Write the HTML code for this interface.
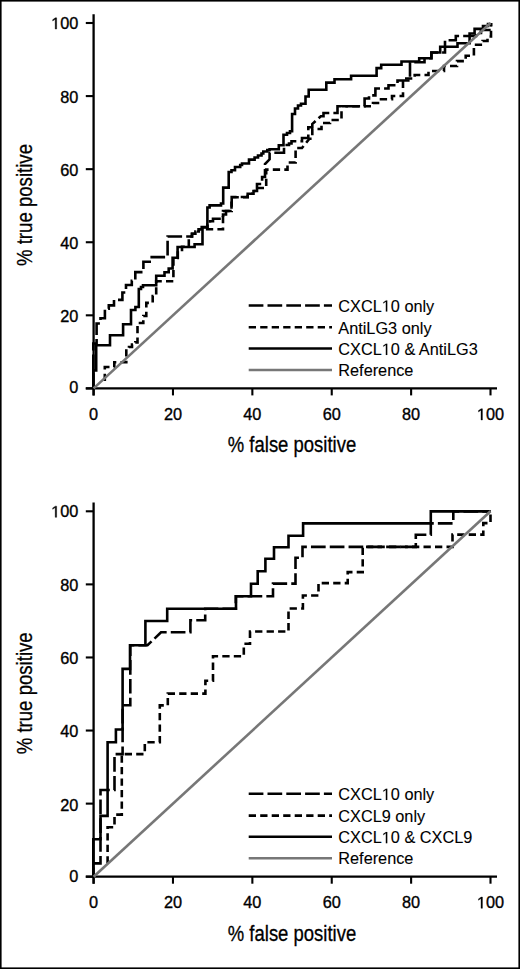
<!DOCTYPE html>
<html><head><meta charset="utf-8"><style>
html,body{margin:0;padding:0;background:#fff;}
svg{display:block;}
.t{font-family:"Liberation Sans",sans-serif;font-size:16.3px;fill:#000;stroke:#000;stroke-width:0.35px;}
.lg{font-family:"Liberation Sans",sans-serif;font-size:16.3px;fill:#000;stroke:#000;stroke-width:0.1px;}
.h1{fill:none;stroke:none;}
.ti{font-family:"Liberation Sans",sans-serif;font-size:21.5px;fill:#000;stroke:#000;stroke-width:0.3px;}
</style></head><body>
<svg width="520" height="969" viewBox="0 0 520 969">
<rect x="0" y="0" width="520" height="969" fill="#fff"/>
<g transform="translate(0,0)">
<line x1="93.6" y1="14.3" x2="93.6" y2="395.4" stroke="#000" stroke-width="2.3"/>
<line x1="85.8" y1="388.4" x2="497" y2="388.4" stroke="#000" stroke-width="2.2"/>
<line x1="85.8" y1="388.40" x2="93.6" y2="388.40" stroke="#000" stroke-width="2.1"/>
<line x1="93.60" y1="388.4" x2="93.60" y2="395.4" stroke="#000" stroke-width="2.1"/>
<text x="78.3" y="393.30" text-anchor="end" class="t">0</text>
<text x="93.60" y="420" text-anchor="middle" class="t">0</text>
<line x1="85.8" y1="315.32" x2="93.6" y2="315.32" stroke="#000" stroke-width="2.1"/>
<line x1="172.98" y1="388.4" x2="172.98" y2="395.4" stroke="#000" stroke-width="2.1"/>
<text x="78.3" y="322.22" text-anchor="end" class="t">20</text>
<text x="172.98" y="420" text-anchor="middle" class="t">20</text>
<line x1="85.8" y1="242.24" x2="93.6" y2="242.24" stroke="#000" stroke-width="2.1"/>
<line x1="252.36" y1="388.4" x2="252.36" y2="395.4" stroke="#000" stroke-width="2.1"/>
<text x="78.3" y="248.74" text-anchor="end" class="t">40</text>
<text x="252.36" y="420" text-anchor="middle" class="t">40</text>
<line x1="85.8" y1="169.16" x2="93.6" y2="169.16" stroke="#000" stroke-width="2.1"/>
<line x1="331.74" y1="388.4" x2="331.74" y2="395.4" stroke="#000" stroke-width="2.1"/>
<text x="78.3" y="175.66" text-anchor="end" class="t">60</text>
<text x="331.74" y="420" text-anchor="middle" class="t">60</text>
<line x1="85.8" y1="96.08" x2="93.6" y2="96.08" stroke="#000" stroke-width="2.1"/>
<line x1="411.12" y1="388.4" x2="411.12" y2="395.4" stroke="#000" stroke-width="2.1"/>
<text x="78.3" y="102.53" text-anchor="end" class="t">80</text>
<text x="411.12" y="420" text-anchor="middle" class="t">80</text>
<line x1="85.8" y1="23.00" x2="93.6" y2="23.00" stroke="#000" stroke-width="2.1"/>
<line x1="490.50" y1="388.4" x2="490.50" y2="395.4" stroke="#000" stroke-width="2.1"/>
<text x="78.3" y="29.05" text-anchor="end" class="t"><tspan class="h1">1</tspan>00</text>
<text x="490.50" y="420" text-anchor="middle" class="t"><tspan class="h1">1</tspan>00</text>
<text x="292" y="452.4" text-anchor="middle" class="ti" textLength="128.4" lengthAdjust="spacingAndGlyphs">% false positive</text>
<text transform="translate(32.3,205) rotate(-90)" x="0" y="0" text-anchor="middle" class="ti" textLength="122" lengthAdjust="spacingAndGlyphs">% true positive</text>
<path d="M93.3,388.0 L93.3,343.5 L96.6,343.5 L96.6,323.5 L100.5,323.5 L100.5,318.3 L104.9,318.3 L104.9,308.8 L108.8,308.8 L108.8,305.4 L114.0,305.4 L114.0,299.9 L122.4,299.9 L122.4,292.5 L126.0,292.5 L126.0,285.0 L131.8,285.0 L131.8,280.8 L135.3,280.8 L135.3,272.1 L143.4,272.1 L143.4,261.7 L149.7,261.7 L149.7,257.1 L167.6,257.1 L167.6,236.5 L192.0,236.5 L192.0,233.8 L195.4,233.8 L195.4,231.5 L198.8,231.5 L198.8,229.2 L201.7,229.2 L201.7,227.0 L207.5,227.0 L207.5,224.6 L210.0,224.6 L210.0,221.2 L213.0,221.2 L213.0,218.8 L223.0,218.8 L223.0,214.5 L226.0,214.5 L226.0,211.0 L231.7,211.0 L231.7,197.0 L247.7,197.0 L247.7,193.8 L253.5,193.8 L253.5,191.0 L257.0,191.0 L257.0,184.0 L262.1,184.0 L262.1,177.0 L265.0,177.0 L265.0,164.0 L269.6,159.3 L269.6,152.7 L284.0,152.7 L284.0,145.0 L289.0,145.0 L289.0,143.5 L291.5,143.5 L291.5,141.2 L302.0,141.2 L302.0,138.0 L308.3,138.0 L308.3,127.3 L312.3,127.3 L312.3,124.0 L320.8,116.2 L323.5,116.2 L323.5,113.0 L337.5,113.0 L337.5,106.2 L364.6,106.2 L364.6,98.5 L369.0,98.5 L369.0,95.4 L375.4,95.4 L375.4,88.5 L388.5,88.5 L388.5,85.2 L397.5,85.2 L397.5,80.5 L410.0,80.5 L410.0,62.3 L424.5,62.3 L424.5,58.3 L431.4,58.3 L431.4,52.5 L445.0,52.5 L445.0,40.2 L455.8,40.2 L455.8,36.0 L476.0,36.0 L476.0,33.0 L481.0,33.0 L481.0,30.0 L491.0,30.0 L491.0,23.0" fill="none" stroke="#000" stroke-width="2.6" stroke-linejoin="miter" stroke-dasharray="14.7 4.1"/>
<path d="M104.8,381.1 L104.8,367.0 L114.3,367.0 L114.3,362.3 L126.3,362.3 L126.3,349.3 L129.0,349.3 L129.0,347.0 L132.0,347.0 L132.0,344.5 L135.3,344.5 L135.3,342.4 L137.5,342.4 L137.5,323.0 L143.3,323.0 L143.3,316.0 L146.3,316.0 L146.3,302.9 L152.7,302.9 L152.7,296.0 L156.2,296.0 L156.2,281.3 L173.4,281.3 L173.4,258.0 L177.8,258.0 L177.8,250.0 L182.0,250.0 L182.0,246.8 L188.8,246.8 L188.8,236.5 L192.0,236.5 L192.0,233.8 L195.4,233.8 L195.4,231.5 L198.8,231.5 L198.8,229.2 L223.0,229.2 L223.0,211.0 L231.5,211.0 L231.5,197.3 L247.7,197.3 L247.7,193.8 L253.5,193.8 L253.5,191.0 L258.0,191.0 L258.0,188.0 L266.2,188.0 L266.2,169.6 L287.5,169.6 L287.5,162.5 L295.6,162.5 L295.6,148.0 L302.0,148.0 L309.4,138.8 L312.3,138.8 L312.3,129.0 L321.5,129.0 L321.5,123.0 L330.0,123.0 L330.0,120.0 L341.5,120.0 L341.5,106.2 L373.0,106.2 L373.0,103.0 L381.0,103.0 L381.0,99.3 L392.0,99.3 L392.0,96.0 L403.0,96.0 L403.0,78.5 L414.7,78.5 L414.7,75.0 L428.5,75.0 L428.5,71.0 L444.0,71.0 L444.0,66.0 L457.0,66.0 L457.0,61.1 L465.7,61.1 L465.7,55.7 L473.9,55.7 L473.9,44.8 L482.6,44.8 L482.6,41.0 L487.5,41.0 L487.5,36.5 L491.0,36.5 L491.0,23.0" fill="none" stroke="#000" stroke-width="2.6" stroke-linejoin="miter" stroke-dasharray="7.3 4.2"/>
<path d="M93.3,388.0 L93.3,370.4 L96.2,370.4 L96.2,345.3 L110.0,345.3 L110.0,335.3 L123.1,335.3 L123.1,324.2 L131.0,324.2 L131.0,310.0 L135.4,310.0 L135.4,307.0 L138.8,307.0 L138.8,289.0 L141.0,289.0 L141.0,287.0 L143.0,287.0 L143.0,285.3 L156.2,285.3 L156.2,275.7 L164.5,275.7 L164.5,272.3 L168.7,272.3 L168.7,268.5 L172.6,268.5 L172.6,257.8 L177.6,257.8 L177.6,247.0 L194.6,247.0 L194.6,244.2 L202.5,244.2 L202.5,227.5 L207.4,227.5 L207.4,207.5 L209.6,207.5 L209.6,205.4 L221.0,205.4 L221.0,203.5 L223.2,203.5 L223.2,187.6 L228.7,187.6 L228.7,172.0 L231.5,172.0 L231.5,170.3 L235.0,170.3 L235.0,167.0 L240.2,167.0 L240.2,165.0 L242.0,165.0 L242.0,163.5 L249.0,163.5 L249.0,159.6 L254.6,159.6 L254.6,157.5 L258.0,157.5 L258.0,155.5 L261.5,155.5 L261.5,153.5 L263.3,153.5 L263.3,151.5 L267.3,151.5 L267.3,150.0 L269.6,150.0 L269.6,149.2 L278.8,149.2 L278.8,145.2 L283.5,145.2 L283.5,134.8 L287.0,134.8 L287.0,133.0 L290.0,133.0 L290.0,131.3 L292.1,131.3 L292.1,114.0 L295.0,114.0 L295.0,108.5 L298.0,108.5 L298.0,105.5 L301.0,105.5 L301.0,103.7 L305.5,103.7 L305.5,96.5 L308.7,96.5 L308.7,89.8 L326.3,89.8 L326.3,82.6 L334.5,82.6 L334.5,79.3 L351.1,79.3 L351.1,75.8 L376.6,75.8 L376.6,68.1 L381.2,68.1 L381.2,64.7 L401.5,64.7 L401.5,61.5 L419.2,61.5 L419.2,58.3 L431.4,58.3 L431.4,52.5 L440.2,52.5 L440.2,46.7 L457.5,46.7 L457.5,43.2 L469.6,43.2 L469.6,33.5 L474.6,33.5 L474.6,28.9 L483.0,28.9 L483.0,26.0 L488.0,26.0 L488.0,24.0 L490.5,24.0 L490.5,23.0" fill="none" stroke="#000" stroke-width="2.6" stroke-linejoin="miter"/>
<line x1="93.6" y1="388.4" x2="490.5" y2="23.0" stroke="#777" stroke-width="2.6"/>
<line x1="248.7" y1="305.5" x2="332" y2="305.5" stroke="#000" stroke-width="2.6" stroke-dasharray="14.7 4.1"/>
<text x="338.3" y="311.6" class="lg">CXCL<tspan class="h1">1</tspan>0 only</text>
<line x1="248.7" y1="327.3" x2="332" y2="327.3" stroke="#000" stroke-width="2.6" stroke-dasharray="7.3 4.2"/>
<text x="338.3" y="333.5" class="lg">AntiLG3 only</text>
<line x1="248.7" y1="348.5" x2="332" y2="348.5" stroke="#000" stroke-width="2.6"/>
<text x="338.3" y="354.9" class="lg">CXCL<tspan class="h1">1</tspan>0 &amp; AntiLG3</text>
<line x1="248.7" y1="370.0" x2="332" y2="370.0" stroke="#777" stroke-width="2.6"/>
<text x="338.3" y="376.0" class="lg">Reference</text>
</g>
<g transform="translate(0,488.3)">
<line x1="93.6" y1="14.3" x2="93.6" y2="395.4" stroke="#000" stroke-width="2.3"/>
<line x1="85.8" y1="388.4" x2="497" y2="388.4" stroke="#000" stroke-width="2.2"/>
<line x1="85.8" y1="388.40" x2="93.6" y2="388.40" stroke="#000" stroke-width="2.1"/>
<line x1="93.60" y1="388.4" x2="93.60" y2="395.4" stroke="#000" stroke-width="2.1"/>
<text x="78.3" y="393.30" text-anchor="end" class="t">0</text>
<text x="93.60" y="420" text-anchor="middle" class="t">0</text>
<line x1="85.8" y1="315.32" x2="93.6" y2="315.32" stroke="#000" stroke-width="2.1"/>
<line x1="172.98" y1="388.4" x2="172.98" y2="395.4" stroke="#000" stroke-width="2.1"/>
<text x="78.3" y="322.22" text-anchor="end" class="t">20</text>
<text x="172.98" y="420" text-anchor="middle" class="t">20</text>
<line x1="85.8" y1="242.24" x2="93.6" y2="242.24" stroke="#000" stroke-width="2.1"/>
<line x1="252.36" y1="388.4" x2="252.36" y2="395.4" stroke="#000" stroke-width="2.1"/>
<text x="78.3" y="248.74" text-anchor="end" class="t">40</text>
<text x="252.36" y="420" text-anchor="middle" class="t">40</text>
<line x1="85.8" y1="169.16" x2="93.6" y2="169.16" stroke="#000" stroke-width="2.1"/>
<line x1="331.74" y1="388.4" x2="331.74" y2="395.4" stroke="#000" stroke-width="2.1"/>
<text x="78.3" y="175.66" text-anchor="end" class="t">60</text>
<text x="331.74" y="420" text-anchor="middle" class="t">60</text>
<line x1="85.8" y1="96.08" x2="93.6" y2="96.08" stroke="#000" stroke-width="2.1"/>
<line x1="411.12" y1="388.4" x2="411.12" y2="395.4" stroke="#000" stroke-width="2.1"/>
<text x="78.3" y="102.53" text-anchor="end" class="t">80</text>
<text x="411.12" y="420" text-anchor="middle" class="t">80</text>
<line x1="85.8" y1="23.00" x2="93.6" y2="23.00" stroke="#000" stroke-width="2.1"/>
<line x1="490.50" y1="388.4" x2="490.50" y2="395.4" stroke="#000" stroke-width="2.1"/>
<text x="78.3" y="29.05" text-anchor="end" class="t"><tspan class="h1">1</tspan>00</text>
<text x="490.50" y="420" text-anchor="middle" class="t"><tspan class="h1">1</tspan>00</text>
<text x="292" y="452.4" text-anchor="middle" class="ti" textLength="128.4" lengthAdjust="spacingAndGlyphs">% false positive</text>
<text transform="translate(32.3,205) rotate(-90)" x="0" y="0" text-anchor="middle" class="ti" textLength="122" lengthAdjust="spacingAndGlyphs">% true positive</text>
<path d="M93.3,388.2 L93.3,375.1 L100.5,375.1 L100.5,301.7 L114.5,301.7 L114.5,265.8 L122.6,265.8 L122.6,217.0 L130.3,217.0 L130.3,157.0 L147.5,157.0 L161.0,144.0 L190.4,144.0 L190.4,131.9 L205.2,131.9 L205.2,120.5 L235.8,120.5 L235.8,108.0 L273.0,108.0 L273.0,95.3 L295.5,95.3 L295.5,69.5 L302.5,69.5 L302.5,58.6 L415.8,58.6 L415.8,46.5 L430.8,46.5 L430.8,35.1 L453.3,35.1 L453.3,23.1 L490.5,23.1" fill="none" stroke="#000" stroke-width="2.6" stroke-linejoin="miter" stroke-dasharray="14.7 4.1" stroke-dashoffset="5.7"/>
<path d="M107.6,375.2 L107.6,339.0 L114.5,339.0 L114.5,326.3 L121.8,326.3 L121.8,265.8 L144.8,265.8 L144.8,254.0 L159.8,254.0 L159.8,217.1 L167.8,217.1 L167.8,205.3 L205.4,205.3 L205.4,192.5 L213.0,192.5 L213.0,167.9 L243.8,167.9 L243.8,155.5 L250.0,155.5 L250.0,143.2 L288.5,143.2 L288.5,120.2 L302.9,120.2 L302.9,107.2 L318.5,107.2 L318.5,94.8 L347.7,94.8 L347.7,83.8 L362.7,83.8 L362.7,58.6 L452.5,58.6 L452.5,46.3 L483.3,46.3 L483.3,34.8 L490.5,34.8 L490.5,23.1" fill="none" stroke="#000" stroke-width="2.6" stroke-linejoin="miter" stroke-dasharray="7.3 4.2"/>
<path d="M93.3,388.2 L93.3,350.9 L100.5,350.9 L100.5,327.6 L107.6,327.6 L107.6,254.0 L115.9,254.0 L115.9,241.2 L122.6,241.2 L122.6,180.6 L130.0,180.6 L130.0,157.0 L145.4,157.0 L145.4,132.7 L167.2,132.7 L167.2,120.5 L236.0,120.5 L236.0,108.0 L251.0,108.0 L251.0,95.5 L257.7,95.5 L257.7,83.0 L265.4,83.0 L265.4,70.5 L274.0,70.5 L274.0,59.0 L288.5,59.0 L288.5,47.4 L303.1,47.4 L303.1,35.1 L430.8,35.1 L430.8,23.1 L490.5,23.1" fill="none" stroke="#000" stroke-width="2.6" stroke-linejoin="miter"/>
<line x1="93.6" y1="388.4" x2="490.5" y2="23.0" stroke="#777" stroke-width="2.6"/>
<line x1="248.7" y1="305.5" x2="332" y2="305.5" stroke="#000" stroke-width="2.6" stroke-dasharray="14.7 4.1"/>
<text x="338.3" y="311.6" class="lg">CXCL<tspan class="h1">1</tspan>0 only</text>
<line x1="248.7" y1="327.3" x2="332" y2="327.3" stroke="#000" stroke-width="2.6" stroke-dasharray="7.3 4.2"/>
<text x="338.3" y="333.5" class="lg">CXCL9 only</text>
<line x1="248.7" y1="348.5" x2="332" y2="348.5" stroke="#000" stroke-width="2.6"/>
<text x="338.3" y="354.9" class="lg">CXCL<tspan class="h1">1</tspan>0 &amp; CXCL9</text>
<line x1="248.7" y1="370.0" x2="332" y2="370.0" stroke="#777" stroke-width="2.6"/>
<text x="338.3" y="376.0" class="lg">Reference</text>
</g>
<path transform="translate(51.11,29.05) scale(0.007959,-0.007959)" d="M515 0L515 1237L197 1010L197 1180L530 1409L696 1409L696 0Z" fill="#000" stroke="#000" stroke-width="44.0"/>
<path transform="translate(476.91,420.00) scale(0.007959,-0.007959)" d="M515 0L515 1237L197 1010L197 1180L530 1409L696 1409L696 0Z" fill="#000" stroke="#000" stroke-width="44.0"/>
<path transform="translate(381.74,311.60) scale(0.007959,-0.007959)" d="M515 0L515 1237L197 1010L197 1180L530 1409L696 1409L696 0Z" fill="#000" stroke="#000" stroke-width="12.6"/>
<path transform="translate(381.74,354.90) scale(0.007959,-0.007959)" d="M515 0L515 1237L197 1010L197 1180L530 1409L696 1409L696 0Z" fill="#000" stroke="#000" stroke-width="12.6"/>
<path transform="translate(51.11,517.35) scale(0.007959,-0.007959)" d="M515 0L515 1237L197 1010L197 1180L530 1409L696 1409L696 0Z" fill="#000" stroke="#000" stroke-width="44.0"/>
<path transform="translate(476.91,908.30) scale(0.007959,-0.007959)" d="M515 0L515 1237L197 1010L197 1180L530 1409L696 1409L696 0Z" fill="#000" stroke="#000" stroke-width="44.0"/>
<path transform="translate(381.74,799.90) scale(0.007959,-0.007959)" d="M515 0L515 1237L197 1010L197 1180L530 1409L696 1409L696 0Z" fill="#000" stroke="#000" stroke-width="12.6"/>
<path transform="translate(381.74,843.20) scale(0.007959,-0.007959)" d="M515 0L515 1237L197 1010L197 1180L530 1409L696 1409L696 0Z" fill="#000" stroke="#000" stroke-width="12.6"/>
<rect x="0.8" y="0.8" width="518.4" height="967.4" fill="none" stroke="#000" stroke-width="1.6"/>
</svg>
</body></html>
